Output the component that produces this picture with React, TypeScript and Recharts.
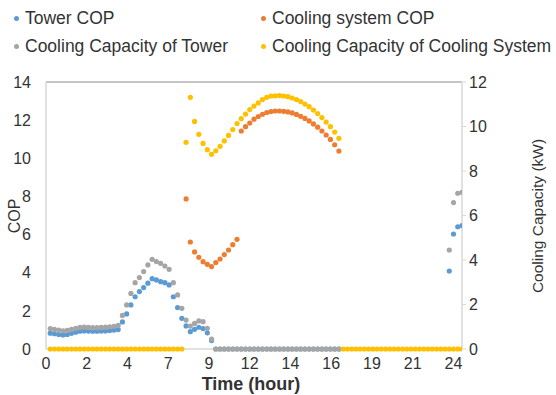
import React from 'react';
import { ScatterChart, Scatter, XAxis, YAxis, ReferenceLine } from 'recharts';

const _ = null;
const STEP_HOURS = 0.25; // one reading every 15 minutes

// X-axis ticks (evenly spaced, labelled as in the source)
const xTickValues = [0, 2.4, 4.8, 7.2, 9.6, 12, 14.4, 16.8, 19.2, 21.6, 24];
const xTickLabels = ['0', '2', '4', '7', '9', '12', '14', '16', '19', '21', '24'];
const leftTicks = [0, 2, 4, 6, 8, 10, 12, 14];
const rightTicks = [0, 2, 4, 6, 8, 10, 12];

// Tower COP (left axis), index = 15-min step
const towerCop = [
  _,
  0.83, 0.80, 0.76, 0.74, 0.76, 0.82, 0.88, 0.93, 0.95, 0.94, 0.93, 0.93, 0.94, 0.95, 0.97, 0.99, 1.02,
  1.42, 1.84, 2.31, 2.74, 3.01, 3.22, 3.45, 3.69, 3.62, 3.53, 3.48, 3.36, 2.74, 2.17, 1.61, 1.21, 0.91,
  1.03, 1.14, 1.07, 0.85, 0.44,
  0, 0, 0, 0, 0, 0, 0, 0, 0, 0, 0, 0, 0, 0, 0, 0, 0, 0, 0, 0, 0, 0, 0, 0, 0, 0, 0, 0, 0, 0,
  _, _, _, _, _, _, _, _, _, _, _, _, _, _, _, _, _, _, _, _, _, _, _, _, _,
  4.09, 6.03, 6.41, 6.47,
];

// Cooling system COP (left axis)
const systemCop = [
  _, _, _, _, _, _, _, _, _, _, _, _, _, _, _, _, _, _, _, _, _, _, _, _, _, _, _, _, _, _, _, _, _,
  7.87, 5.61, 5.09, 4.81, 4.58, 4.44, 4.32, 4.53, 4.72, 4.95, 5.19, 5.47, 5.75,
  11.43, 11.66, 11.85, 12.05, 12.19, 12.31, 12.40, 12.45, 12.48, 12.48, 12.46, 12.43, 12.38, 12.30,
  12.20, 12.09, 11.96, 11.80, 11.63, 11.43, 11.22, 10.99, 10.71, 10.38,
  _, _, _, _, _, _, _, _, _, _, _, _, _, _, _, _, _, _, _, _, _, _, _, _, _, _, _, _, _,
];

// Cooling Capacity of Tower (right axis, kW)
const towerCapacity = [
  _,
  0.92, 0.88, 0.85, 0.82, 0.84, 0.88, 0.93, 0.97, 0.98, 0.97, 0.96, 0.96, 0.97, 0.98, 1.00, 1.02, 1.06,
  1.51, 1.98, 2.50, 2.98, 3.21, 3.48, 3.78, 4.03, 3.93, 3.85, 3.73, 3.58, 2.98, 2.43, 1.83, 1.30, 1.03,
  1.15, 1.26, 1.23, 0.93, 0.44,
  0, 0, 0, 0, 0, 0, 0, 0, 0, 0, 0, 0, 0, 0, 0, 0, 0, 0, 0, 0, 0, 0, 0, 0, 0, 0, 0, 0, 0, 0,
  _, _, _, _, _, _, _, _, _, _, _, _, _, _, _, _, _, _, _, _, _, _, _, _, _,
  4.45, 6.58, 7.00, 7.04,
];

// Cooling Capacity of Cooling System (right axis, kW)
const systemCapacity = [
  _,
  0, 0, 0, 0, 0, 0, 0, 0, 0, 0, 0, 0, 0, 0, 0, 0, 0, 0, 0, 0, 0, 0, 0, 0, 0, 0, 0, 0, 0, 0, 0, 0,
  9.29, 11.31, 10.23, 9.65, 9.24, 8.96, 8.75, 8.91, 9.11, 9.35, 9.60, 9.86, 10.13, 10.35, 10.56,
  10.76, 10.92, 11.06, 11.21, 11.31, 11.37, 11.38,
  11.39, 11.37, 11.34, 11.28, 11.21, 11.12, 11.01, 10.89, 10.74, 10.58, 10.40, 10.20, 9.99, 9.75, 9.47,
  0, 0, 0, 0, 0, 0, 0, 0, 0, 0, 0, 0, 0, 0, 0, 0, 0, 0, 0, 0, 0, 0, 0, 0, 0, 0, 0, 0, 0,
];

const COLORS = {
  towerCop: '#5b9bd5',
  systemCop: '#ed7d31',
  towerCap: '#a5a5a5',
  systemCap: '#ffc000',
};

const toPoints = (arr: (number | null)[]) =>
  arr
    .map((v, i) => ({ x: i * STEP_HOURS, y: v }))
    .filter((p) => p.y !== null);

const dot = (color: string) => (props: any) =>
  props.cx == null || props.cy == null ? <g /> : (
    <circle cx={props.cx} cy={props.cy} r={2.6} fill={color} />
  );

const FONT = '"Liberation Sans", Arial, sans-serif';
const TEXT = '#333333';
const TICK_SIZE = 16;

const legendItems = [
  { label: 'Tower COP', color: COLORS.towerCop, left: 14, top: 8 },
  { label: 'Cooling system COP', color: COLORS.systemCop, left: 261, top: 8 },
  { label: 'Cooling Capacity of Tower', color: COLORS.towerCap, left: 14, top: 36 },
  { label: 'Cooling Capacity of Cooling System', color: COLORS.systemCap, left: 261, top: 36 },
];

export default function App() {
  return (
    <div style={{ position: 'absolute', left: 0, top: 0, width: 556, height: 395, background: '#fff', fontFamily: FONT }}>
      {legendItems.map((it) => (
        <div
          key={it.label}
          style={{
            position: 'absolute',
            left: it.left,
            top: it.top,
            height: 20,
            display: 'flex',
            alignItems: 'center',
            fontSize: 17.5,
            color: TEXT,
            whiteSpace: 'nowrap',
          }}
        >
          <span style={{ width: 5, height: 5, borderRadius: 3, background: it.color, marginRight: 6, display: 'inline-block' }} />
          {it.label}
        </div>
      ))}
      <ScatterChart width={556} height={395} margin={{ top: 82, right: 34, bottom: 16, left: 0 }}>
        <XAxis
          type="number"
          dataKey="x"
          domain={[0, 24.5]}
          ticks={xTickValues}
          tickFormatter={(v: number) => xTickLabels[xTickValues.indexOf(v)] ?? ''}
          allowDataOverflow
          height={30}
          tickLine={false}
          tickMargin={3}
          axisLine={{ stroke: '#d9d9d9', strokeWidth: 1.5 }}
          tick={{ fill: TEXT, fontSize: TICK_SIZE, fontFamily: FONT }}
          label={(p: any) => (
            <text x={251} y={390} textAnchor="middle" fontSize={18} fontWeight="bold" fill={TEXT} fontFamily={FONT}>
              Time (hour)
            </text>
          )}
        />
        <YAxis
          yAxisId="left"
          type="number"
          dataKey="y"
          domain={[0, 14]}
          ticks={leftTicks}
          width={46}
          tickLine={false}
          tickMargin={9}
          axisLine={{ stroke: '#d9d9d9', strokeWidth: 1.5 }}
          tick={{ fill: TEXT, fontSize: TICK_SIZE, fontFamily: FONT }}
          label={(p: any) => (
            <text x={14} y={216} transform="rotate(-90 14 216)" textAnchor="middle" dominantBaseline="central" fontSize={16} fill={TEXT} fontFamily={FONT}>
              COP
            </text>
          )}
        />
        <YAxis
          yAxisId="right"
          orientation="right"
          type="number"
          dataKey="y"
          domain={[0, 12]}
          ticks={rightTicks}
          width={60}
          tickSize={4}
          tickMargin={3}
          tickLine={{ stroke: '#d9d9d9' }}
          axisLine={{ stroke: '#d9d9d9', strokeWidth: 1.5 }}
          tick={{ fill: TEXT, fontSize: TICK_SIZE, fontFamily: FONT }}
          label={(p: any) => (
            <text x={537} y={216} transform="rotate(-90 537 216)" textAnchor="middle" dominantBaseline="central" fontSize={15.5} fill={TEXT} fontFamily={FONT}>
              Cooling Capacity (kW)
            </text>
          )}
        />
        <ReferenceLine yAxisId="left" y={14} stroke="#8c8c8c" strokeWidth={1} />
        <Scatter yAxisId="left" name="Tower COP" data={toPoints(towerCop)} shape={dot(COLORS.towerCop)} isAnimationActive={false} />
        <Scatter yAxisId="left" name="Cooling system COP" data={toPoints(systemCop)} shape={dot(COLORS.systemCop)} isAnimationActive={false} />
        <Scatter yAxisId="right" name="Cooling Capacity of Tower" data={toPoints(towerCapacity)} shape={dot(COLORS.towerCap)} isAnimationActive={false} />
        <Scatter yAxisId="right" name="Cooling Capacity of Cooling System" data={toPoints(systemCapacity)} shape={dot(COLORS.systemCap)} isAnimationActive={false} />
      </ScatterChart>
    </div>
  );
}
